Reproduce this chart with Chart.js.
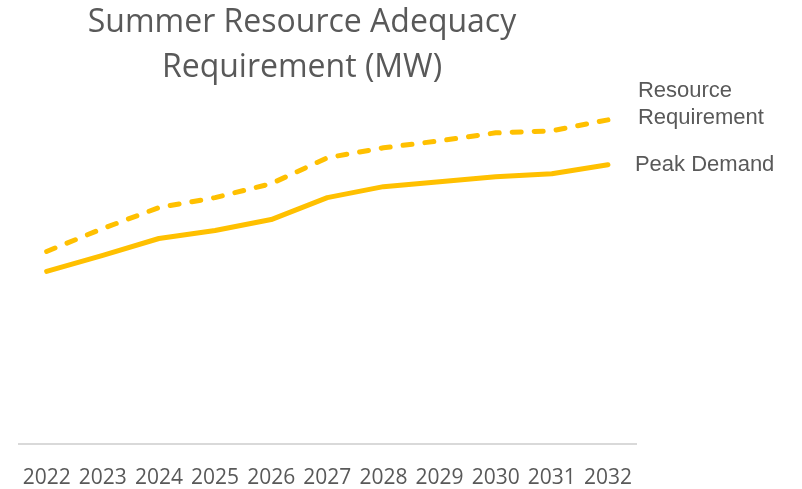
<!DOCTYPE html>
<html>
<head>
<meta charset="utf-8">
<script src="https://cdn.jsdelivr.net/npm/chart.js@4"></script>
<style>
  html, body { margin: 0; padding: 0; background: #fff; }
  #wrap { position: relative; width: 802px; height: 489px; }
  #title {
    position: absolute; left: 0; top: -3px; width: 604px;
    text-align: center; font-family: "Open Sans", sans-serif;
    font-size: 32px; line-height: 45px; color: #595959;
  }
  canvas { position: absolute; left: 0; top: 0; }
</style>
</head>
<body>
<div id="wrap">
  <canvas id="raChart" width="802" height="489"></canvas>
  <div id="title">Summer Resource Adequacy<br>Requirement (MW)</div>
</div>
<script>
// ── Data (MW) ──
const years = ['2022', '2023', '2024', '2025', '2026', '2027', '2028', '2029', '2030', '2031', '2032'];
const resourceRequirement = [1930, 2160, 2370, 2470, 2610, 2870, 2970, 3040, 3120, 3140, 3250];
const peakDemand = [1730, 1890, 2060, 2140, 2250, 2470, 2580, 2630, 2680, 2710, 2800];
const seriesLabels = [['Resource', 'Requirement'], ['Peak Demand']];

const GOLD = '#FFC000';

// end-of-line labels, like Excel's series name data label
const endLabels = {
    id: 'endLabels',
    afterDatasetsDraw(chart) {
        const ctx = chart.ctx;
        ctx.save();
        ctx.font = '22px "Liberation Sans", Arial, sans-serif';
        ctx.fillStyle = '#595959';
        ctx.textBaseline = 'middle';
        ctx.textAlign = 'left';
        chart.data.datasets.forEach((ds, i) => {
            const meta = chart.getDatasetMeta(i);
            const pt = meta.data[meta.data.length - 1];
            const lines = seriesLabels[i];
            const lh = 27;
            const startY = lines.length > 1 ? pt.y - 29 : pt.y;
            lines.forEach((t, j) => ctx.fillText(t, pt.x + (lines.length > 1 ? 30 : 27), startY + j * lh));
        });
        ctx.restore();
    }
};

const ctx = document.getElementById('raChart').getContext('2d');
new Chart(ctx, {
    type: 'line',
    data: {
        labels: years,
        datasets: [{
            label: 'Resource Requirement',
            data: resourceRequirement,
            borderColor: GOLD,
            borderWidth: 5,
            borderDash: [9, 13],
            borderCapStyle: 'round',
            borderJoinStyle: 'round',
            pointRadius: 0,
            tension: 0
        }, {
            label: 'Peak Demand',
            data: peakDemand,
            borderColor: GOLD,
            borderWidth: 5,
            borderCapStyle: 'round',
            borderJoinStyle: 'round',
            pointRadius: 0,
            tension: 0
        }]
    },
    options: {
        responsive: false,
        animation: false,
        layout: { padding: { left: 14, right: 166, top: 85, bottom: -24 } },
        plugins: {
            legend: { display: false },
            title: { display: false },
            tooltip: { enabled: false }
        },
        scales: {
            x: {
                offset: true,
                grid: { display: false, drawTicks: false },
                border: { display: true, color: '#d9d9d9', width: 2 },
                ticks: {
                    color: '#595959', padding: 22, maxRotation: 0, autoSkip: false,
                    font: { family: '"Open Sans", sans-serif', size: 21 }
                }
            },
            y: { display: false, min: 0, max: 3600 }
        }
    },
    plugins: [endLabels]
});
</script>
</body>
</html>
